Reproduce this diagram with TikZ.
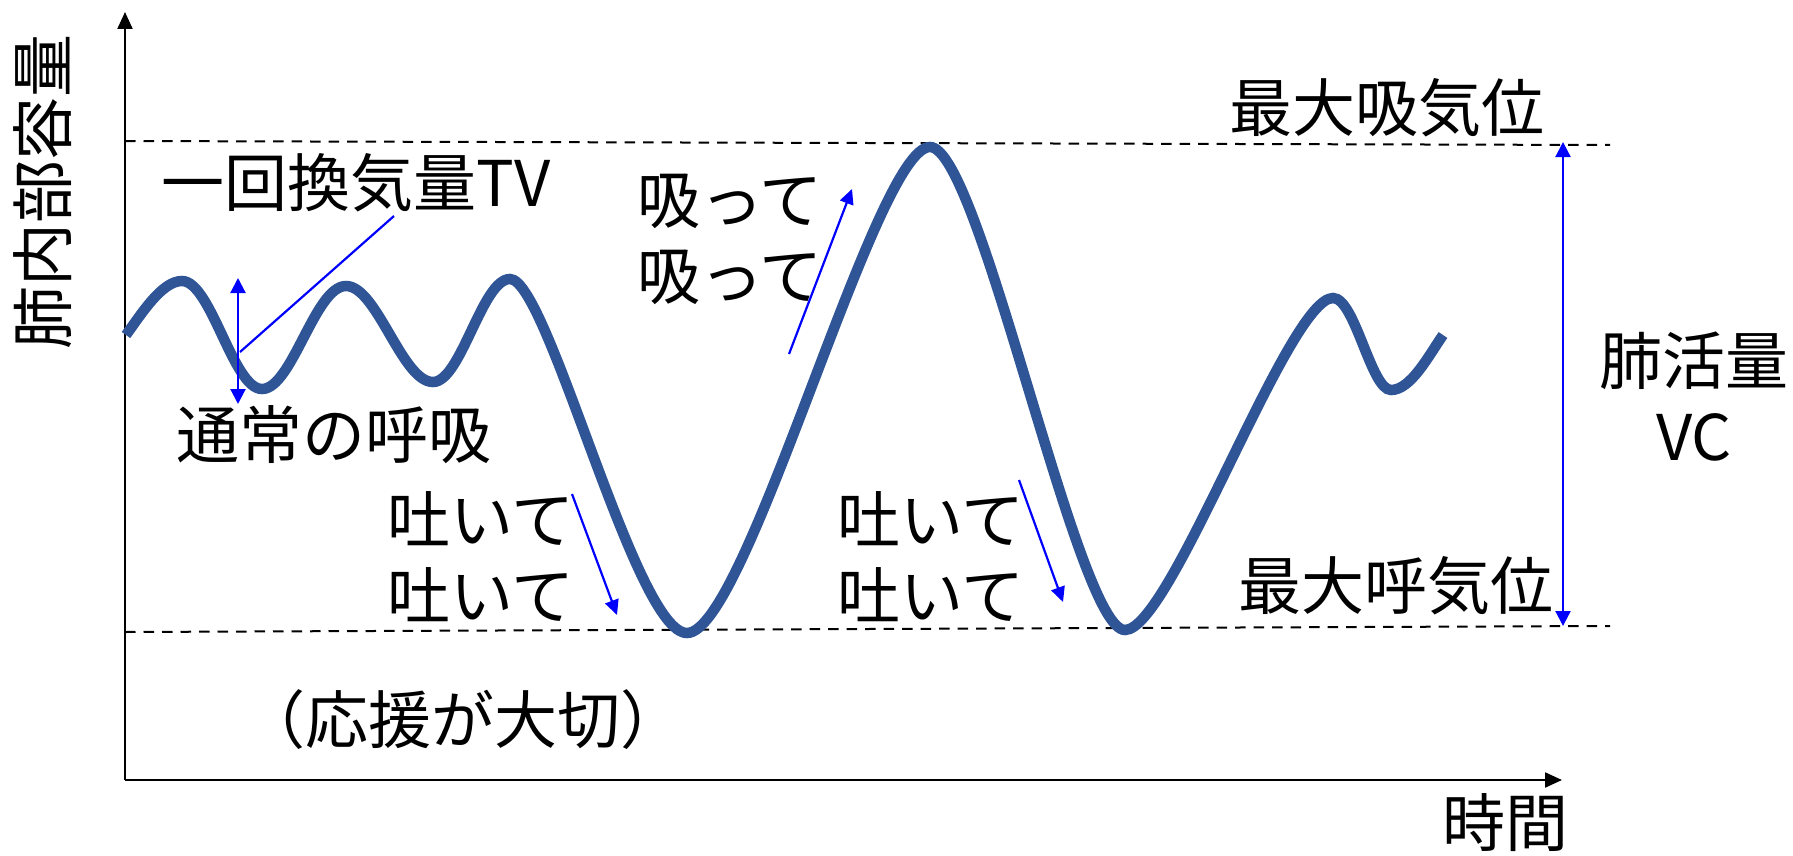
\documentclass[tikz,border=0pt]{standalone}
\usepackage{fontspec}
\setmainfont{Noto Sans CJK JP}
\usetikzlibrary{arrows.meta}
\definecolor{wave}{HTML}{2F5597}
\definecolor{arrowblue}{RGB}{0,0,255}
\begin{document}
\begin{tikzpicture}[x=1pt,y=-1pt,
  lbl/.style={font=\fontsize{63}{76}\selectfont, inner sep=0pt, align=center},
  axisline/.style={line width=2.2pt, -{Triangle[length=17pt,width=15pt]}},
  guide/.style={line width=2pt, dash pattern=on 10.5pt off 8pt},
  bluearrow/.style={draw=arrowblue, line width=2.2pt, -{Triangle[length=15pt,width=14pt]}},
  bluedouble/.style={draw=arrowblue, line width=2.2pt, {Triangle[length=15pt,width=15pt]}-{Triangle[length=15pt,width=15pt]}},
  blueline/.style={draw=arrowblue, line width=2.2pt},
  wavepath/.style={draw=wave, line width=10.5pt},
]
\useasboundingbox (0,0) rectangle (1793,856);

% axes
\coordinate (O) at (125,780);
\coordinate (ytip) at (125,12);
\coordinate (xtip) at (1562,780);
\draw[axisline] (O) -- (ytip);
\draw[axisline] (O) -- (xtip);

% guide lines
\coordinate (topL) at (125,141);
\coordinate (topR) at (1610,145);
\coordinate (botL) at (125,632);
\coordinate (botR) at (1610,626);
\draw[guide] (topL) -- (topR);
\draw[guide] (botL) -- (botR);

% wave
\coordinate (s0) at (126,335);
\coordinate (a1) at (182,281);
\coordinate (b1) at (262,389);
\coordinate (a2) at (346,286);
\coordinate (b2) at (433,382);
\coordinate (a3) at (510,279);
\coordinate (b3) at (687,633);
\coordinate (a4) at (930,147);
\coordinate (b4) at (1125,630);
\coordinate (a5) at (1333,298);
\coordinate (b5) at (1391,390);
\coordinate (e0) at (1443,335);
\draw[wavepath] (s0) .. controls +(16,-22) and +(-20,0) .. (a1)
  .. controls +(29,0) and +(-29,0) .. (b1)
  .. controls +(30,0) and +(-31,0) .. (a2)
  .. controls +(31,0) and +(-31,0) .. (b2)
  .. controls +(28,0) and +(-28,0) .. (a3)
  .. controls +(38,0) and +(-52,0) .. (b3)
  .. controls +(60,0) and +(-55,0) .. (a4)
  .. controls +(50,0) and +(-48,0) .. (b4)
  .. controls +(46,0) and +(-45,0) .. (a5)
  .. controls +(22,0) and +(-20,0) .. (b5)
  .. controls +(20,0) and +(-14,20) .. (e0);

% labels
\node[lbl, rotate=90] (ylabel) at (43,192) {肺内部容量};
\node[lbl] (xlabel) at (1505,823) {時間};
\node[lbl] (tv) at (356,183) {一回換気量TV};
\node[lbl] (normal) at (334,435) {通常の呼吸};
\node[lbl] (inhale) at (730,239) {吸って\\吸って};
\node[lbl] (exhaleA) at (481,557) {吐いて\\吐いて};
\node[lbl] (exhaleB) at (931,557) {吐いて\\吐いて};
\node[lbl] (maxin) at (1387,108) {最大吸気位};
\node[lbl] (maxex) at (1396,586) {最大呼気位};
\node[lbl] (vc) at (1694,397) {肺活量\\VC};
\node[lbl] (support) at (463,720) {（応援が大切）};

% TV arrow and pointer
\coordinate (tvtop) at (238,278);
\coordinate (tvbot) at (238,404);
\coordinate (tvpt) at (240,352);
\coordinate (tvlead) at (394,216);
\draw[bluedouble] (tvbot) -- (tvtop);
\draw[blueline] (tvlead) -- (tvpt);

% VC arrow
\coordinate (vctop) at (1563,142);
\coordinate (vcbot) at (1563,626);
\draw[bluedouble] (vcbot) -- (vctop);

% breathing direction arrows
\coordinate (inS) at (789,354);
\coordinate (inE) at (852,189);
\draw[bluearrow] (inS) -- (inE);
\coordinate (exAS) at (572,494);
\coordinate (exAE) at (617,615);
\draw[bluearrow] (exAS) -- (exAE);
\coordinate (exBS) at (1019,480);
\coordinate (exBE) at (1063,602);
\draw[bluearrow] (exBS) -- (exBE);
\end{tikzpicture}
\end{document}
